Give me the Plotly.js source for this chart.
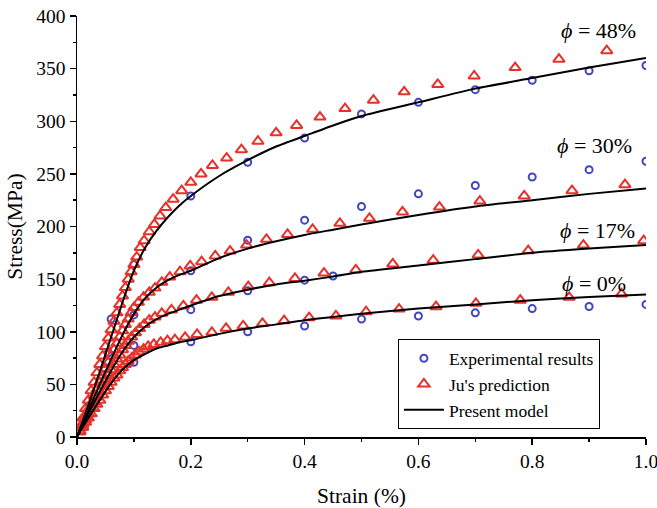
<!DOCTYPE html>
<html><head><meta charset="utf-8">
<script src="https://cdn.plot.ly/plotly-3.0.1.min.js"></script>
<style>html,body{margin:0;padding:0;background:#fff}#chart{width:657px;height:508px}</style>
</head><body><div id="chart"></div>
<script>
// ---- Experimental results (blue circles) ----
const exp48X = [0.06,0.1,0.2,0.3,0.4,0.5,0.6,0.7,0.8,0.9,1.0];
const exp48Y = [112,164,229,261,284,307,318,330,339,348,353];
const exp30X = [0.055,0.1,0.2,0.3,0.4,0.5,0.6,0.7,0.8,0.9,1.0];
const exp30Y = [80,116,158,187,206,219,231,239,247,254,262];
const exp17X = [0.058,0.1,0.2,0.3,0.4,0.45];
const exp17Y = [55,87,121,139,149,153];
const exp0X = [0.1,0.2,0.3,0.4,0.5,0.6,0.7,0.8,0.9,1.0];
const exp0Y = [71,90.5,100,105.5,112,115,118,122,124,126];

// ---- Ju's prediction (red triangles) ----
const ju48X = [0.005,0.01,0.015,0.02,0.025,0.03,0.035,0.04,0.045,0.05,0.055,0.06,0.065,0.07,0.075,0.08,0.085,0.09,0.095,0.1,
  0.105,0.111,0.118,0.127,0.136,0.146,0.156,0.169,0.184,0.2,0.218,0.238,0.263,0.289,0.318,0.35,0.386,0.427,
  0.471,0.521,0.575,0.634,0.698,0.77,0.847,0.931];
const ju48Y = [9,18,27,35,44,52,61,69,77,86,94,102,110,118,126,134,142,150,157,164,
  171,180,186.5,195,202,210,218,226,234,242,250,258,265,273,281,289,296,304,
  312,320,328,335,343,351,359,367];
const ju30X = [0.005,0.01,0.015,0.02,0.025,0.03,0.035,0.04,0.045,0.05,0.055,0.06,0.065,0.07,0.075,0.08,0.085,0.09,0.095,0.1,
  0.108,0.117,0.127,0.137,0.149,0.163,0.181,0.199,0.219,0.243,0.269,0.298,0.333,0.37,0.414,
  0.462,0.514,0.572,0.637,0.708,0.786,0.87,0.963];
const ju30Y = [6,13,19,26,32,39,45,52,58,65,71,77,83,89,95,101,107,112,118,123,
  128,133,137.5,141.5,147,152,157,162.5,166.6,172,176.7,182.4,187.8,192.5,197.3,
  203,207.8,213.8,218.5,224.2,229,234,239.7];
const ju17X = [0.005,0.01,0.015,0.02,0.025,0.03,0.035,0.04,0.045,0.05,0.055,0.06,0.065,0.07,0.075,0.08,0.085,0.09,0.096,0.103,
  0.11,0.118,0.127,0.137,0.149,0.166,0.187,0.21,0.237,0.266,0.301,0.338,0.383,0.434,
  0.49,0.555,0.626,0.705,0.793,0.89,0.996];
const ju17Y = [5,11,16,22,27,33,38,43,49,54,59,64,69,74,78,83,87,91,95,99,
  103,107,111,114,117.5,120.7,124.5,130,132.7,137.5,142.8,146.6,150.7,155.8,
  158.7,164.4,168,173,177,182.4,186.5];
const ju0X = [0.005,0.01,0.015,0.02,0.025,0.03,0.035,0.04,0.045,0.05,0.055,0.06,0.065,0.07,0.075,0.08,0.085,0.09,0.096,0.102,
  0.109,0.117,0.125,0.135,0.147,0.159,0.172,0.19,0.211,0.237,0.262,0.292,0.326,0.364,0.408,
  0.455,0.508,0.566,0.631,0.701,0.779,0.865,0.957];
const ju0Y = [5,9,14,18,22,27,31,35,40,44,48,52,56,59,63,66,69,72,75,78,
  81,83.5,86,88,90,91.5,92.5,94.7,97.5,99.5,103.3,105.5,108,110.5,113.4,
  115,119,121.6,123.8,127,130,132.7,135.9];

// ---- Present model (black lines) ----
const modX = [0,0.02,0.04,0.06,0.08,0.1,0.12,0.14,0.16,0.18,0.2,0.25,0.3,0.35,0.4,0.45,0.5,0.6,0.7,0.8,0.9,1.0];
const mod48Y = [0,30,62,95,128,158,180,196,209,220,229,248,263,276,286,296,305,318,331,341,351,360];
const mod30Y = [0,25,50,74,97,117,132,142,149,154,158,170,179,186,192,197,202,211,219,225,231,236];
const mod17Y = [0,22,43,63,81,95,105,112,117,121,125,134,140,145,148.5,152.5,157,163,169,175,179,182.5];
const mod0Y  = [0,18,35,51,64,73,79,84,87,90,92,98,103,107,111,114,117,122,126,130,133,135.5];

// ---- Labels ----
const phiLabels = ['<i>ϕ</i> = 48%','<i>ϕ</i> = 30%','<i>ϕ</i> = 17%','<i>ϕ</i> = 0%'];
const phiLabelX = [0.916,0.91,0.914,0.909];
const phiLabelY = [386,277,196,146];
const seriesNames = ['Experimental results',"Ju's prediction",'Present model'];

const BLUE = '#4046c0', RED = '#e8302a';
const FONT = 'Liberation Serif, Times New Roman, serif';

const expSets = [[exp48X,exp48Y],[exp30X,exp30Y],[exp17X,exp17Y],[exp0X,exp0Y]];
const juSets = [[ju48X,ju48Y],[ju30X,ju30Y],[ju17X,ju17Y],[ju0X,ju0Y]];
const modSets = [mod48Y,mod30Y,mod17Y,mod0Y];

const traces = [];
expSets.forEach((s,i)=>traces.push({x:s[0],y:s[1],type:'scatter',mode:'markers',name:seriesNames[0],
  legendgroup:'exp',showlegend:i===0,
  marker:{symbol:'circle-open',size:7,color:BLUE,line:{width:2,color:BLUE}}}));
juSets.forEach((s,i)=>traces.push({x:s[0],y:s[1],type:'scatter',mode:'markers',name:seriesNames[1],
  legendgroup:'ju',showlegend:i===0,
  marker:{symbol:'triangle-up-open',size:10,color:RED,line:{width:2,color:RED}}}));
modSets.forEach((y,i)=>traces.push({x:modX,y:y,type:'scatter',mode:'lines',name:seriesNames[2],
  legendgroup:'mod',showlegend:i===0,line:{color:'black',width:2,shape:'spline',smoothing:0.6}}));

const annotations = phiLabels.map((t,i)=>({x:phiLabelX[i],y:phiLabelY[i],xref:'x',yref:'y',text:t,showarrow:false,
  font:{family:FONT,size:22,color:'black'}}));

const layout = {
  width:657,height:508,
  margin:{l:77,r:11,t:16,b:71},
  paper_bgcolor:'white',plot_bgcolor:'white',
  font:{family:FONT,size:19,color:'black'},
  showlegend:true,
  legend:{x:0.564,y:0.232,xanchor:'left',yanchor:'top',bordercolor:'black',borderwidth:1,
    bgcolor:'white',font:{family:FONT,size:17.5,color:'black'},tracegroupgap:0,itemwidth:40},
  xaxis:{range:[0,1.0],dtick:0.2,tickformat:'.1f',showgrid:false,zeroline:false,showline:true,
    linecolor:'black',linewidth:1.5,ticks:'outside',ticklen:6,tickwidth:1.5,tickcolor:'black',
    ticklabeloverflow:'allow',
    minor:{dtick:0.1,ticks:'outside',ticklen:3,tickwidth:1.5,tickcolor:'black',showgrid:false},
    title:{text:'Strain (%)',font:{family:FONT,size:21.5},standoff:18},
    tickfont:{family:FONT,size:19.5}},
  yaxis:{range:[0,400],dtick:50,showgrid:false,zeroline:false,showline:true,
    linecolor:'black',linewidth:1.5,ticks:'outside',ticklen:6,tickwidth:1.5,tickcolor:'black',
    minor:{dtick:25,ticks:'outside',ticklen:3,tickwidth:1.5,tickcolor:'black',showgrid:false},
    title:{text:'Stress(MPa)',font:{family:FONT,size:21.5},standoff:8},
    tickfont:{family:FONT,size:19.5}},
  annotations:annotations
};
Plotly.newPlot('chart',traces,layout,{displayModeBar:false,staticPlot:true});
</script></body></html>
